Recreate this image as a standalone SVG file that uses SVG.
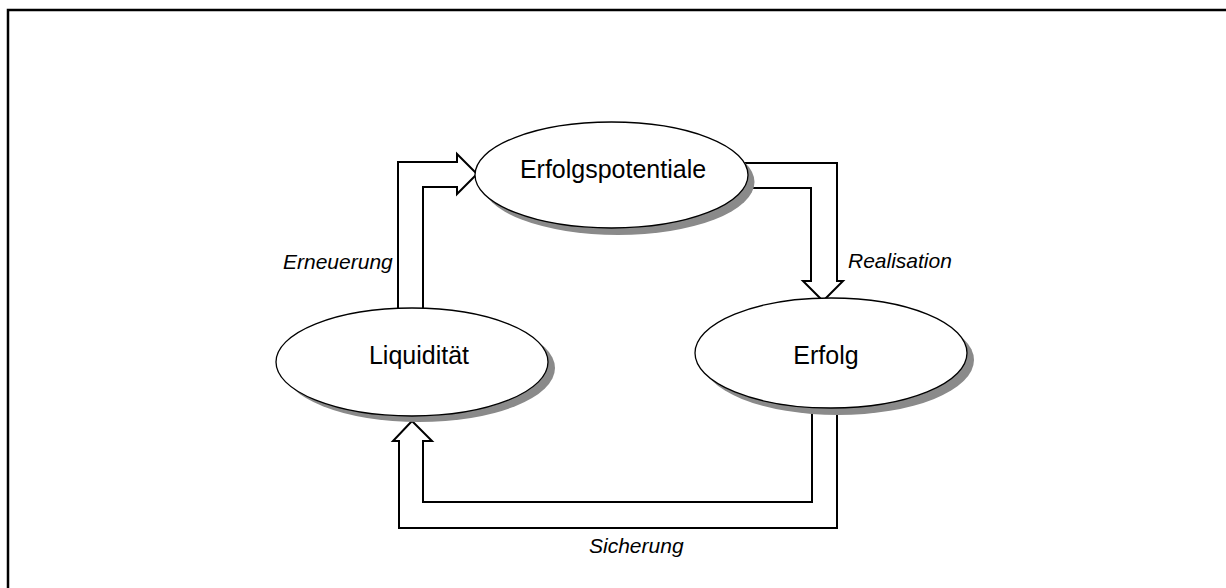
<svg xmlns="http://www.w3.org/2000/svg" width="1226" height="588" viewBox="0 0 1226 588">
<style>
.frame{fill:none;stroke:#000;stroke-width:2.5}
.conn{fill:none;stroke:#000;stroke-width:2;stroke-linejoin:miter}
.shadow{fill:#8a8a8a;stroke:none}
.node{fill:#fff;stroke:#000;stroke-width:1.3}
.nt{font-family:"Liberation Sans",Arial,sans-serif;font-size:25px;fill:#000;text-anchor:middle}
.lbl{font-family:"Liberation Sans",Arial,sans-serif;font-size:21px;font-style:italic;fill:#000}
</style>
<rect class="frame" x="8" y="10" width="1240" height="600"/>
<g id="connectors">
<polyline class="conn" points="398,312 398,162 457,162 457,154 477,174 457,194 457,187 423,187 423,312"/>
<polyline class="conn" points="740,163 837,163 837,281 843,281 823,301 803,281 811,281 811,188 745,188"/>
<polyline class="conn" points="812,400 812,502 423,502 423,441 432,441 412,421 393,441 399,441 399,528 837,528 837,400"/>
</g>
<g id="n-erfolgspotentiale">
<ellipse class="shadow" cx="618" cy="182" rx="136.5" ry="53"/>
<ellipse class="node" cx="611.5" cy="175" rx="136.5" ry="53"/>
<text class="nt" x="613" y="178">Erfolgspotentiale</text>
</g>
<g id="n-liquiditaet">
<ellipse class="shadow" cx="419" cy="368" rx="136" ry="54"/>
<ellipse class="node" cx="412" cy="362" rx="136" ry="54"/>
<text class="nt" x="419" y="364">Liquidität</text>
</g>
<g id="n-erfolg">
<ellipse class="shadow" cx="838" cy="360" rx="136" ry="55"/>
<ellipse class="node" cx="831" cy="353" rx="136" ry="55"/>
<text class="nt" x="826" y="364">Erfolg</text>
</g>
<g id="labels">
<text class="lbl" x="283" y="269">Erneuerung</text>
<text class="lbl" x="848" y="268">Realisation</text>
<text class="lbl" x="589" y="553">Sicherung</text>
</g>
</svg>
